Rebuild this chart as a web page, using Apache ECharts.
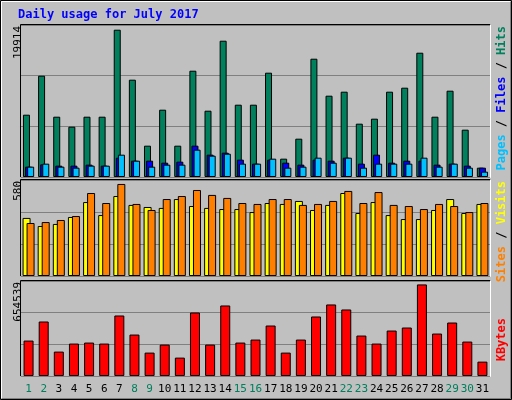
<!DOCTYPE html>
<html><head><meta charset="utf-8">
<script src="https://cdn.jsdelivr.net/npm/echarts@6/dist/echarts.min.js"></script>
<style>html,body{margin:0;padding:0;background:#C0C0C0}#c{width:512px;height:400px}</style>
</head><body><div id="c"></div>
<script>
const days = ['1','2','3','4','5','6','7','8','9','10','11','12','13','14','15','16','17','18','19','20','21','22','23','24','25','26','27','28','29','30','31'];
const weekend = ['1','2','8','9','15','16','22','23','29','30'];
const hits = [8424,13695,8154,6803,8154,8154,19914,13155,4235,9100,4235,14371,8965,18426,9776,9776,14101,2478,5181,15993,10992,11533,7208,7884,11533,12074,16804,8154,11668,6397,1261];
const files = [1397,1712,1532,1532,1667,1532,2613,2207,2207,1937,2072,4235,3018,3289,2343,1802,2343,1937,1667,2343,2207,2613,1802,3018,1937,2207,2207,1667,1802,1532,1261];
const pages = [1397,1802,1397,1261,1532,1532,3018,2207,1397,1667,1667,3694,2883,3153,1802,1802,2478,1261,1397,2613,1937,2613,1261,1802,1802,1802,2613,1397,1802,1261,721];
const sites = [366,315,328,372,466,384,504,448,435,429,485,441,429,422,422,403,460,454,473,416,448,523,397,466,384,359,359,416,485,397,454];
const visits = [334,340,353,378,523,460,580,454,416,485,504,542,511,492,460,454,485,485,448,454,473,536,460,529,448,441,422,454,441,403,460];
const kbytes = [253213,389374,174382,231714,238880,231714,432373,296211,167216,224547,131384,453872,224547,504037,238880,260379,360709,167216,260379,425206,511203,475371,289045,231714,324877,346376,654539,303378,382208,246046,102718];
const maxLabels = ['19914','580','654539'];

const chart = echarts.init(document.getElementById('c'));
const L=21, R=22;
const grids=[{left:L,right:R,top:25,height:152},{left:L,right:R,top:180,height:96},{left:L,right:R,top:281,height:95}];
const ymax=[20550,605,678900];
const bs={borderColor:'#000',borderWidth:1};
function xa(i,show){return {type:'category',gridIndex:i,data:days,axisLine:{show:false},axisTick:{show:false},
 axisLabel:{show:show,interval:0,margin:8,fontFamily:'DejaVu Sans Mono',fontSize:11,
  color:(v)=>weekend.includes(v)?'#00805C':'#000'}};}
function ya(i){return {type:'value',gridIndex:i,min:0,max:ymax[i],interval:ymax[i]/3,axisLabel:{show:false},axisLine:{show:false},axisTick:{show:false},
 splitLine:{lineStyle:{color:'#808080',width:1}}};}
function bar(name,data,gi,color,w,gap){return {name,type:'bar',xAxisIndex:gi,yAxisIndex:gi,data,barWidth:w,barGap:gap,
 itemStyle:Object.assign({color},bs),animation:false};}
const rt=(x,y,parts)=>({type:'text',x,y,rotation:Math.PI/2,style:{text:parts.map(p=>'{'+p[1]+'|'+p[0]+'}').join(''),
 font:'bold 12px DejaVu Sans Mono',rich:Object.fromEntries(parts.map(p=>[p[1],{fill:p[2],font:'bold 12px DejaVu Sans Mono'}])),align:'right',verticalAlign:'top'}});
chart.setOption({
 backgroundColor:'#C0C0C0',animation:false,
 grid:grids,
 xAxis:[xa(0,false),xa(1,false),xa(2,true)],
 yAxis:[ya(0),ya(1),ya(2)],
 series:[
  bar('Hits',hits,0,'#00805C',7,'-70%'),
  bar('Files',files,0,'#0000FF',7,'-70%'),
  bar('Pages',pages,0,'#00C0FF',7,'-70%'),
  bar('Sites',sites,1,'#FFFF00',8,'-50%'),
  bar('Visits',visits,1,'#FF8000',8,'-50%'),
  bar('KBytes',kbytes,2,'#FF0000',10,'0%')
 ],
 graphic:[
  {type:'rect',shape:{x:0.5,y:0.5,width:511,height:399},style:{fill:'none',stroke:'#000'}},
  {type:'polyline',shape:{points:[[1.5,398],[1.5,1.5],[510,1.5]]},style:{fill:'none',stroke:'#fff'}},
  {type:'polyline',shape:{points:[[2,398.5],[510.5,398.5],[510.5,2]]},style:{fill:'none',stroke:'#808080'}},
  {type:'text',x:18,y:9,style:{text:'Daily usage for July 2017',font:'bold 12px DejaVu Sans Mono',fill:'#0000FF'}},
  ...grids.map(g=>({type:'group',children:[
   {type:'polyline',shape:{points:[[L-0.5,g.top+g.height+0.5],[L-0.5,g.top-0.5],[512-R+0.5,g.top-0.5]]},style:{fill:'none',stroke:'#000'}},
   {type:'polyline',shape:{points:[[L-0.5,g.top+g.height+0.5],[512-R+0.5,g.top+g.height+0.5],[512-R+0.5,g.top-0.5]]},style:{fill:'none',stroke:'#fff'}}
  ]})),
  ...grids.map((g,i)=>({type:'text',x:24,y:g.top+1,rotation:Math.PI/2,style:{text:maxLabels[i],font:'11px DejaVu Sans Mono',fill:'#000',align:'right',verticalAlign:'bottom'}})),
  rt(496,26,[['Pages','a','#00C0FF'],[' / ','s','#000'],['Files','b','#0000FF'],[' / ','t','#000'],['Hits','c','#00805C']]),
  rt(496,181,[['Sites','a','#FF8000'],[' / ','s','#000'],['Visits','b','#FFFF00']]),
  rt(496,318,[['KBytes','a','#FF0000']])
 ]
});
</script></body></html>
